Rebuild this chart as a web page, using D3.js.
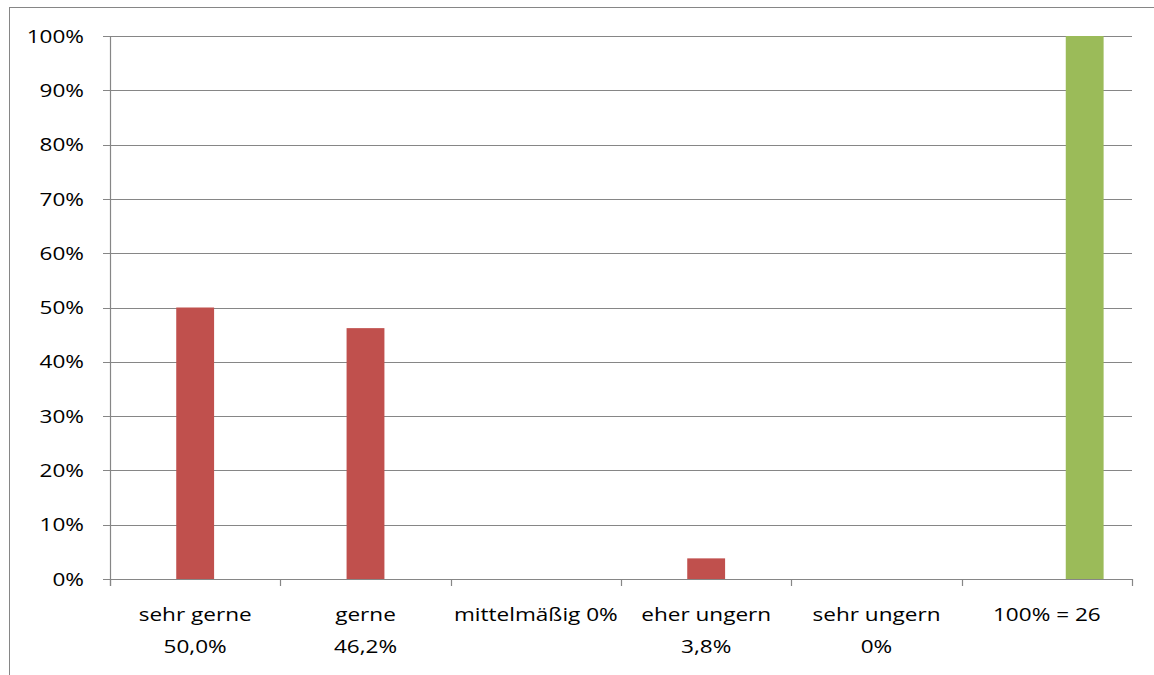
<!DOCTYPE html>
<html><head><meta charset="utf-8">
<script src="https://cdn.jsdelivr.net/npm/d3@7"></script>
<style>
html,body{margin:0;padding:0;background:#fff;}
svg{display:block;}
text{font-family:"Open Sans",sans-serif;font-size:18.5px;fill:#000;}
</style></head>
<body>
<svg id="chart" width="1154" height="675"></svg>
<script>
// ---- data ----
const categories = ["sehr gerne","gerne","mittelmäßig","eher ungern","sehr ungern","gesamt"];
const categoryLabels = [["sehr gerne","50,0%"],["gerne","46,2%"],["mittelmäßig 0%"],["eher ungern","3,8%"],["sehr ungern","0%"],["100% = 26"]];
const seriesNames = ["Reihe1","Anteil","Gesamt"];
const seriesReihe1 = [null,null,null,null,null,null];
const seriesAnteil = [50.0,46.2,0,3.8,0,null];
const seriesGesamt = [null,null,null,null,null,100];
const yTicks = [0,10,20,30,40,50,60,70,80,90,100];
const seriesColors = ["#4F81BD","#C0504D","#9BBB59"];

// ---- layout ----
const W = 1154, H = 675;
const mLeft = 110, mRight = 1132, mTop = 36, mBottom = 579;
const svg = d3.select("#chart");
const gray = "#868686";

// outer frame
svg.append("rect").attr("x",9.5).attr("y",7.5).attr("width",W+10).attr("height",H+10)
  .attr("fill","none").attr("stroke",gray).attr("stroke-width",1);

const x = d3.scaleBand().domain(categories).range([mLeft,mRight]).paddingInner(1/3).paddingOuter(1/6);
const xs = d3.scaleBand().domain(seriesNames).range([0,x.bandwidth()]);
const y = d3.scaleLinear().domain([0,100]).range([mBottom,mTop]);

// gridlines + y ticks
svg.append("g").selectAll("line").data(yTicks).join("line")
  .attr("x1",mLeft-7).attr("x2",mRight)
  .attr("y1",d=>Math.round(y(d))+0.5).attr("y2",d=>Math.round(y(d))+0.5)
  .attr("stroke",gray).attr("stroke-width",1.2);

// y axis line
svg.append("line").attr("x1",mLeft+0.5).attr("x2",mLeft+0.5).attr("y1",mTop).attr("y2",mBottom+7)
  .attr("stroke",gray).attr("stroke-width",1.2);

// x tick marks at category boundaries
const bounds = d3.range(categories.length+1).map(i=>mLeft + i*x.step());
svg.append("g").selectAll("line").data(bounds).join("line")
  .attr("x1",d=>Math.round(d)+0.5).attr("x2",d=>Math.round(d)+0.5)
  .attr("y1",mBottom).attr("y2",mBottom+7)
  .attr("stroke",gray).attr("stroke-width",1.2);

// bars
const allSeries = [seriesReihe1,seriesAnteil,seriesGesamt];
allSeries.forEach((vals,si)=>{
  svg.append("g").selectAll("rect")
    .data(vals.map((v,i)=>({cat:categories[i],v})).filter(d=>d.v!==null))
    .join("rect")
    .attr("x",d=>x(d.cat)+xs(seriesNames[si]))
    .attr("width",xs.bandwidth())
    .attr("y",d=>y(d.v))
    .attr("height",d=>y(0)-y(d.v))
    .attr("fill",seriesColors[si]);
});

// y labels
const sx = 1.22;
svg.append("g").selectAll("text").data(yTicks).join("text")
  .attr("transform",d=>`translate(84,${y(d)}) scale(${sx},1)`)
  .attr("text-anchor","end").attr("dy","0.36em")
  .text(d=>d+"%");

// x labels
categories.forEach((c,i)=>{
  const cx = x(c)+x.bandwidth()/2;
  categoryLabels[i].forEach((line,j)=>{
    svg.append("text")
      .attr("transform",`translate(${cx},${621+j*32}) scale(${sx},1)`)
      .attr("text-anchor","middle")
      .text(line);
  });
});
</script>
</body></html>
